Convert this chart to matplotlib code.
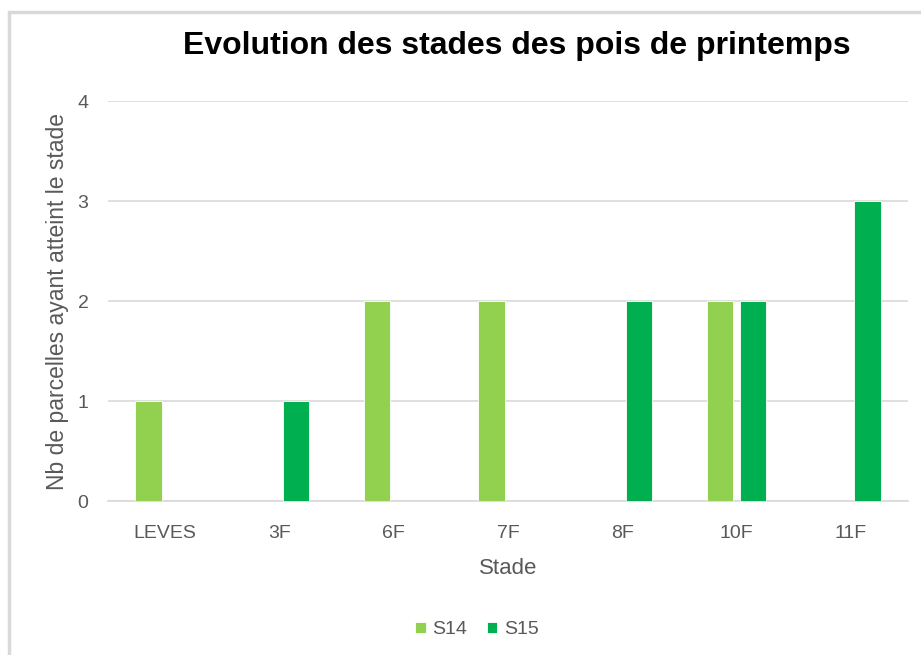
import matplotlib.pyplot as plt
import numpy as np
from matplotlib.patches import Rectangle

stades = ["LEVES", "3F", "6F", "7F", "8F", "10F", "11F"]
s14 = [1, 0, 2, 2, 0, 2, 0]
s15 = [0, 1, 0, 0, 2, 2, 3]

plt.rcParams["font.family"] = ["Liberation Sans", "DejaVu Sans"]
GREY = "#595959"

W, H = 921, 655
fig = plt.figure(figsize=(W / 100, H / 100), dpi=100)

# chart frame (light grey, cut off at right/bottom)
fig.patches.append(
    Rectangle((9 / W, 0 - 0.01), 1.0, 1 - 12 / H + 0.01, transform=fig.transFigure,
              fill=False, edgecolor="#d9d9d9", linewidth=2.5)
)

ax = fig.add_axes([108 / W, 1 - 501 / H, 800 / W, 400 / H])

x = np.arange(len(stades))
width = 0.23
off = 0.145
ax.bar(x - off, s14, width, color="#92D050", edgecolor="white", linewidth=0.6, label="S14", zorder=3)
ax.bar(x + off, s15, width, color="#00B050", edgecolor="white", linewidth=0.6, label="S15", zorder=3)

ax.set_xlim(-0.5, len(stades) - 0.5)
ax.set_ylim(0, 4)
ax.set_yticks([0, 1, 2, 3, 4])
ax.set_xticks(x)
ax.set_xticklabels(stades)
ax.grid(axis="y", color="#d9d9d9", linewidth=1.2, zorder=0)
for s in ["top", "right", "left"]:
    ax.spines[s].set_visible(False)
ax.spines["bottom"].set_color("#d9d9d9")
ax.spines["bottom"].set_linewidth(1.2)
ax.tick_params(axis="both", length=0, colors=GREY, labelsize=14)
ax.tick_params(axis="x", pad=17)
ax.tick_params(axis="y", pad=14)

ax.set_xlabel("Stade", color=GREY, fontsize=16, labelpad=12)
ax.set_ylabel("Nb de parcelles ayant atteint le stade", color=GREY, fontsize=16.5, labelpad=6)

fig.text(517 / W, 1 - 46 / H, "Evolution des stades des pois de printemps",
         ha="center", va="center", fontsize=23, fontweight="bold", color="black")

fig.legend(loc="center", bbox_to_anchor=(477 / W, 1 - 630 / H), ncol=2, frameon=False,
           fontsize=14, labelcolor=GREY, handlelength=0.55, handleheight=0.55,
           columnspacing=1.0, handletextpad=0.35)

fig.savefig("out.png", dpi=100)
